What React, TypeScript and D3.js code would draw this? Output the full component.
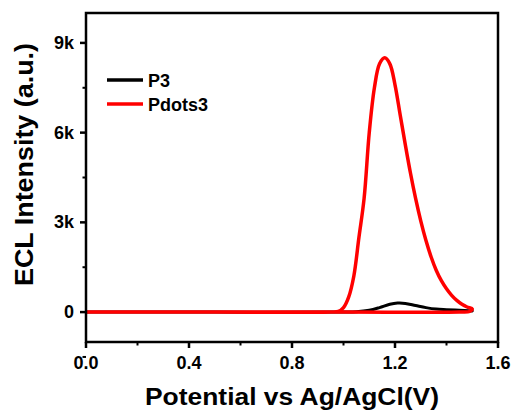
import React from "react";
import * as d3 from "d3";

const xP3 = [0, 0.5, 1.0, 1.05, 1.10, 1.14, 1.18, 1.21, 1.24, 1.28, 1.32, 1.36, 1.40, 1.45, 1.50];
const yP3 = [0, 0, 0, 10, 60, 150, 260, 300, 290, 220, 150, 100, 80, 60, 40];

const xPdots = [0, 0.5, 0.95, 0.98, 1.0, 1.02, 1.04, 1.06, 1.08, 1.10, 1.12, 1.14, 1.16, 1.18, 1.20, 1.22, 1.24, 1.26, 1.28, 1.30, 1.32, 1.34, 1.36, 1.38, 1.40, 1.42, 1.44, 1.46, 1.48, 1.50, 1.49, 1.45, 1.0, 0.5, 0];
const yPdots = [0, 0, 0, 20, 150, 500, 1200, 2500, 3800, 6000, 7500, 8300, 8500, 8300, 7600, 6600, 5600, 4650, 3800, 3050, 2400, 1850, 1400, 1050, 780, 560, 390, 260, 170, 110, 20, 0, 0, 0, 0];

const xTicks = [0, 0.4, 0.8, 1.2, 1.6];
const xMinor = [0.2, 0.6, 1.0, 1.4];
const yTicks = [0, 3000, 6000, 9000];
const yTickLabels = ["0", "3k", "6k", "9k"];
const yMinor = [-1500, 1500, 4500, 7500];

const series = [
  { name: "P3", xs: xP3, ys: yP3, color: "#000000", width: 3 },
  { name: "Pdots3", xs: xPdots, ys: yPdots, color: "#ff0000", width: 3.5 },
];

export default function App() {
  const W = 512, H = 414;
  const L = 86, R = 498, T = 13, B = 342;
  const x = d3.scaleLinear().domain([0, 1.6]).range([L, R]);
  const y = d3.scaleLinear().domain([-1000, 10000]).range([B, T]);
  const font = "'Liberation Sans', Arial, sans-serif";
  const line = d3
    .line<[number, number]>()
    .x((d) => x(d[0]))
    .y((d) => y(d[1]))
    .curve(d3.curveCatmullRom.alpha(0.5));

  return (
    <svg
      width={W}
      height={H}
      style={{ position: "absolute", left: 0, top: 0, background: "#fff" }}
      fontFamily={font}
    >
      <defs>
        <clipPath id="clip">
          <rect x={L} y={T} width={R - L} height={B - T} />
        </clipPath>
      </defs>
      <g clipPath="url(#clip)">
        {series.map((s) => (
          <path
            key={s.name}
            d={line(s.xs.map((v, i) => [v, s.ys[i]] as [number, number])) || ""}
            fill="none"
            stroke={s.color}
            strokeWidth={s.width}
            strokeLinejoin="round"
            strokeLinecap="round"
          />
        ))}
      </g>
      <rect x={L} y={T} width={R - L} height={B - T} fill="none" stroke="#000" strokeWidth={2.5} />
      {xTicks.map((t) => (
        <g key={"xt" + t}>
          <line x1={x(t)} x2={x(t)} y1={B} y2={B + 6} stroke="#000" strokeWidth={2.5} />
          <text x={x(t)} y={369} textAnchor="middle" fontSize={18} fontWeight="bold">
            {t.toFixed(1)}
          </text>
        </g>
      ))}
      {xMinor.map((t) => (
        <line key={"xm" + t} x1={x(t)} x2={x(t)} y1={B} y2={B + 3.5} stroke="#000" strokeWidth={2} />
      ))}
      {yTicks.map((t, i) => (
        <g key={"yt" + t}>
          <line x1={L - 6} x2={L} y1={y(t)} y2={y(t)} stroke="#000" strokeWidth={2.5} />
          <text x={74} y={y(t) + 6} textAnchor="end" fontSize={18} fontWeight="bold">
            {yTickLabels[i]}
          </text>
        </g>
      ))}
      {yMinor.map((t) => (
        <line key={"ym" + t} x1={L - 3.5} x2={L} y1={y(t)} y2={y(t)} stroke="#000" strokeWidth={2} />
      ))}
      <text
        x={292}
        y={405}
        textAnchor="middle"
        fontSize={23.5}
        fontWeight="bold"
        textLength={294}
        lengthAdjust="spacingAndGlyphs"
      >
        Potential vs Ag/AgCl(V)
      </text>
      <text
        transform={`translate(33, 164.5) rotate(-90)`}
        textAnchor="middle"
        fontSize={25}
        fontWeight="bold"
        textLength={243}
        lengthAdjust="spacingAndGlyphs"
      >
        ECL Intensity (a.u.)
      </text>
      {series.map((s, i) => (
        <g key={"lg" + s.name}>
          <line x1={107} x2={143} y1={80 + i * 24} y2={80 + i * 24} stroke={s.color} strokeWidth={3.5} />
          <text x={148} y={80 + i * 24 + 6.5} fontSize={18} fontWeight="bold">
            {s.name}
          </text>
        </g>
      ))}
    </svg>
  );
}
